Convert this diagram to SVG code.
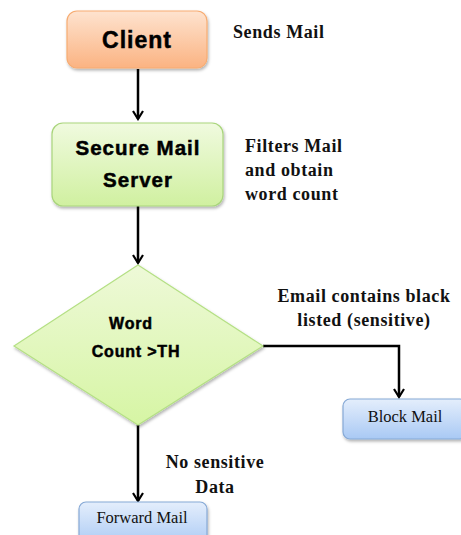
<svg xmlns="http://www.w3.org/2000/svg" width="461" height="535" viewBox="0 0 461 535">
<defs>
<linearGradient id="gOrange" x1="0" y1="0" x2="0" y2="1"><stop offset="0" stop-color="#fee3cf"/><stop offset="1" stop-color="#fbb382"/></linearGradient>
<linearGradient id="gGreen" x1="0" y1="0" x2="0" y2="1"><stop offset="0" stop-color="#f0fadf"/><stop offset="1" stop-color="#d0f0a0"/></linearGradient>
<linearGradient id="gDia" x1="0" y1="0" x2="0" y2="1"><stop offset="0" stop-color="#eef9d8"/><stop offset="1" stop-color="#d6f5a4"/></linearGradient>
<linearGradient id="gBlue" x1="0" y1="0" x2="0" y2="1"><stop offset="0" stop-color="#e4eefc"/><stop offset="1" stop-color="#a9c9f4"/></linearGradient>
<filter id="sh" x="-10%" y="-10%" width="125%" height="130%"><feDropShadow dx="1" dy="2" stdDeviation="1.5" flood-color="#000" flood-opacity="0.3"/></filter>
<marker id="ah2" viewBox="0 0 12 12" refX="10" refY="6" markerWidth="12" markerHeight="12" orient="auto" markerUnits="userSpaceOnUse"><path d="M2,1 L10,6 L2,11" fill="none" stroke="#000" stroke-width="2.2"/></marker>
</defs>
<style>
.bx{font-family:"Liberation Sans",Arial,sans-serif;font-weight:bold;fill:#000;text-anchor:middle;stroke:#000;stroke-width:0.5}
.lb{font-family:"Liberation Serif","Times New Roman",serif;font-weight:bold;font-size:18px;letter-spacing:0.6px;fill:#111}
.nd{font-family:"Liberation Serif","Times New Roman",serif;font-size:16.5px;fill:#111;text-anchor:middle}
.cn{fill:none;stroke:#000;stroke-width:2.5}
</style>
<g id="connectors">
<line class="cn" x1="138" y1="69" x2="138" y2="119" marker-end="url(#ah2)"/>
<line class="cn" x1="138" y1="206" x2="138" y2="263" marker-end="url(#ah2)"/>
<polyline class="cn" points="263,346 399,346 399,397" marker-end="url(#ah2)"/>
<line class="cn" x1="138" y1="425" x2="138" y2="501" marker-end="url(#ah2)"/>
</g>
<g id="client">
<rect x="67" y="11" width="140" height="57" rx="10" fill="url(#gOrange)" stroke="#f7ac72" stroke-width="1.2" filter="url(#sh)"/>
<text class="bx" x="137" y="48" font-size="23" letter-spacing="1">Client</text>
</g>
<g id="server">
<rect x="52" y="123" width="171" height="83" rx="11" fill="url(#gGreen)" stroke="#a9d57c" stroke-width="1.2" filter="url(#sh)"/>
<text class="bx" x="138" y="155" font-size="20.5" letter-spacing="1">Secure Mail</text>
<text class="bx" x="138" y="187" font-size="20.5" letter-spacing="1">Server</text>
</g>
<g id="decision">
<polygon points="138,265 263,346 138,425 14,346" fill="url(#gDia)" stroke="#b5e085" stroke-width="1.2" filter="url(#sh)"/>
<text class="bx" x="131" y="329" font-size="16" letter-spacing="0.8">Word</text>
<text class="bx" x="136" y="357" font-size="16" letter-spacing="0.8">Count &gt;TH</text>
</g>
<g id="block">
<rect x="343" y="399" width="124" height="40" rx="7" fill="url(#gBlue)" stroke="#86a9d6" stroke-width="1.2" filter="url(#sh)"/>
<text class="nd" x="405" y="422">Block Mail</text>
</g>
<g id="forward">
<rect x="79" y="502" width="128" height="45" rx="7" fill="url(#gBlue)" stroke="#86a9d6" stroke-width="1.2" filter="url(#sh)"/>
<text class="nd" x="142" y="523">Forward Mail</text>
</g>
<g id="labels">
<text class="lb" x="233" y="38">Sends Mail</text>
<text class="lb" x="245" y="152">Filters Mail</text>
<text class="lb" x="245" y="176">and obtain</text>
<text class="lb" x="245" y="200">word count</text>
<text class="lb" x="364" y="302" text-anchor="middle">Email contains black</text>
<text class="lb" x="364" y="326" text-anchor="middle">listed (sensitive)</text>
<text class="lb" x="215" y="468" text-anchor="middle">No sensitive</text>
<text class="lb" x="215" y="493" text-anchor="middle">Data</text>
</g>
</svg>
